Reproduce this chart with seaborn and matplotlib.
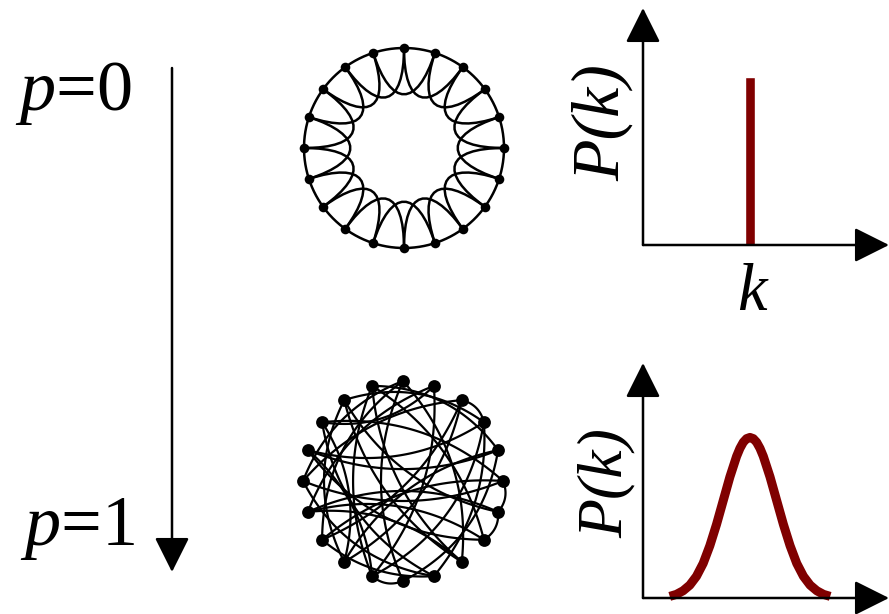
import numpy as np
import pandas as pd
import matplotlib
matplotlib.use("Agg")
import matplotlib.pyplot as plt
from matplotlib.path import Path
from matplotlib.patches import PathPatch
import seaborn as sns

# ---------------- data ----------------
n_nodes = 20                      # nodes in each network
ring_neighbors = [1, 2]           # p=0: each node linked to its 1st and 2nd neighbours
# p=1: rewired (random) edges, node 0 at top, numbered clockwise
random_edges = [(0, 8), (0, 13), (1, 11), (1, 14), (1, 17), (2, 3), (2, 15),
                (3, 16), (3, 18), (4, 16), (4, 12), (5, 6), (5, 15), (5, 17),
                (6, 7), (6, 18), (7, 19), (7, 16), (8, 14), (8, 19), (9, 17),
                (9, 3), (10, 11), (10, 0), (10, 4), (11, 19), (12, 2), (12, 18),
                (13, 5), (13, 9), (14, 6), (15, 9), (16, 11), (17, 12), (18, 8),
                (19, 4), (0, 15), (2, 13), (11, 3), (14, 7)]
random_bends = [0.22, -0.25, 0.2, -0.22, 0.25, 0.3, -0.2, 0.22, -0.25, 0.2,
                -0.22, 0.3, 0.2, -0.22, 0.3, 0.22, -0.2, 0.25, -0.22, 0.2,
                0.25, -0.2, 0.3, 0.22, -0.25, 0.2, -0.22, 0.25, 0.2, -0.2,
                0.22, -0.25, 0.2, 0.22, -0.2, 0.25, -0.22, 0.2, -0.25, 0.22]

# degree distributions
delta_k = [4.0]
delta_p = [1.0]
gauss_k = [1.0, 1.25, 1.5, 1.75, 2.0, 2.25, 2.5, 2.75, 3.0, 3.25, 3.5, 3.625,
           3.75, 3.875, 4.0, 4.125, 4.25, 4.375, 4.5, 4.75, 5.0, 5.25, 5.5,
           5.75, 6.0, 6.25, 6.5, 6.75, 7.0]
gauss_p = [0.004, 0.009, 0.018, 0.032, 0.054, 0.086, 0.130, 0.183, 0.242, 0.301,
           0.352, 0.372, 0.387, 0.396, 0.399, 0.396, 0.387, 0.372, 0.352, 0.301,
           0.242, 0.183, 0.130, 0.086, 0.054, 0.032, 0.018, 0.009, 0.004]

p_labels = ["0", "1"]
dark_red = "#800000"

# ---------------- style ----------------
sns.set_theme(style="white")
SERIF = "Liberation Serif"
plt.rcParams["font.family"] = [SERIF, "DejaVu Serif"]
plt.rcParams["mathtext.fontset"] = "custom"
plt.rcParams["mathtext.rm"] = "Liberation Serif"
plt.rcParams["mathtext.it"] = "Liberation Serif:italic"
plt.rcParams["text.color"] = "black"

W, H = 889, 614
fig = plt.figure(figsize=(W / 100, H / 100), dpi=100)
fig.patch.set_facecolor("white")


def px_axes(x0, y0, x1, y1):
    return fig.add_axes([x0 / W, 1 - y1 / H, (x1 - x0) / W, (y1 - y0) / H])


def node_xy(i):
    a = np.deg2rad(90 - 360.0 * i / n_nodes)
    return np.array([np.cos(a), np.sin(a)])


# ---------------- overlay: arrow + p labels ----------------
ov = px_axes(0, 0, W, H)
ov.set_xlim(0, W)
ov.set_ylim(H, 0)
ov.axis("off")
ov.annotate("", xy=(172, 572), xytext=(172, 68),
            arrowprops=dict(arrowstyle="-|>", color="black", lw=1.8,
                            mutation_scale=54, shrinkA=0, shrinkB=0))
ov.text(15, 110, r"$p$=" + p_labels[0], fontsize=52, ha="left", va="baseline",
        family=SERIF, color="black")
ov.text(20, 545, r"$p$=" + p_labels[1], fontsize=52, ha="left", va="baseline",
        family=SERIF, color="black")

# ---------------- ring network (p=0) ----------------
ax1 = px_axes(294, 38, 514, 258)
ax1.set_xlim(-1.1, 1.1)
ax1.set_ylim(-1.1, 1.1)
ax1.axis("off")
t = np.linspace(0, 2 * np.pi, 400)
ax1.plot(np.cos(t), np.sin(t), color="black", lw=1.8)
for i in range(n_nodes):
    j = (i + ring_neighbors[1]) % n_nodes
    p0, p3 = node_xy(i), node_xy(j)
    verts = [p0, 0.42 * p0, 0.42 * p3, p3]
    path = Path(verts, [Path.MOVETO, Path.CURVE4, Path.CURVE4, Path.CURVE4])
    ax1.add_patch(PathPatch(path, fill=False, ec="black", lw=1.8))
pos = np.array([node_xy(i) for i in range(n_nodes)])
sns.scatterplot(x=pos[:, 0], y=pos[:, 1], s=48, color="black", ax=ax1,
                linewidth=0, zorder=5, clip_on=False)

# ---------------- random network (p=1) ----------------
ax2 = px_axes(293, 371, 513, 591)
ax2.set_xlim(-1.1, 1.1)
ax2.set_ylim(-1.1, 1.1)
ax2.axis("off")
tt = np.linspace(0, 1, 60)[:, None]
for (a, b), r in zip(random_edges, random_bends):
    p0, p2 = node_xy(a), node_xy(b)
    d = p2 - p0
    c = (p0 + p2) / 2 + r * np.array([-d[1], d[0]])
    curve = (1 - tt) ** 2 * p0 + 2 * (1 - tt) * tt * c + tt ** 2 * p2
    ax2.plot(curve[:, 0], curve[:, 1], color="black", lw=1.6)
sns.scatterplot(x=pos[:, 0], y=pos[:, 1], s=85, color="black", ax=ax2,
                linewidth=0, zorder=5, clip_on=False)


# ---------------- degree distributions ----------------
def arrow_axes(ax):
    for s in ax.spines.values():
        s.set_visible(False)
    ax.set_xticks([])
    ax.set_yticks([])
    ax.patch.set_alpha(0)
    kw = dict(arrowstyle="-|>", color="black", lw=1.8, mutation_scale=54,
              shrinkA=0, shrinkB=0)
    ax.annotate("", xy=(0, 1), xytext=(0, 0), xycoords="axes fraction",
                arrowprops=kw, annotation_clip=False)
    ax.annotate("", xy=(1.0, 0), xytext=(0, 0), xycoords="axes fraction",
                arrowprops=kw, annotation_clip=False)


ax3 = px_axes(643, 8, 889, 245)
ax3.set_xlim(0, 9.2)
ax3.set_ylim(0, 1.41)
ax3.bar(delta_k, delta_p, width=0.37, color=dark_red, zorder=3)
arrow_axes(ax3)
ov.text(603, 123, "P(k)", fontsize=49, style="italic", rotation=90,
        ha="center", va="center", family=SERIF, color="black")
ov.text(752, 293, "k", fontsize=48, style="italic", ha="center", va="center",
        family=SERIF, color="black")

ax4 = px_axes(643, 363, 889, 598)
ax4.set_xlim(0, 9.2)
ax4.set_ylim(0, 0.584)
sns.lineplot(x=gauss_k, y=gauss_p, color=dark_red, lw=6.5, ax=ax4,
             clip_on=False, solid_capstyle="butt", solid_joinstyle="round",
             zorder=3)
arrow_axes(ax4)
ov.text(607, 483, "P(k)", fontsize=46, style="italic", rotation=90,
        ha="center", va="center", family=SERIF, color="black")

fig.savefig("out.png", dpi=100, facecolor="white")
